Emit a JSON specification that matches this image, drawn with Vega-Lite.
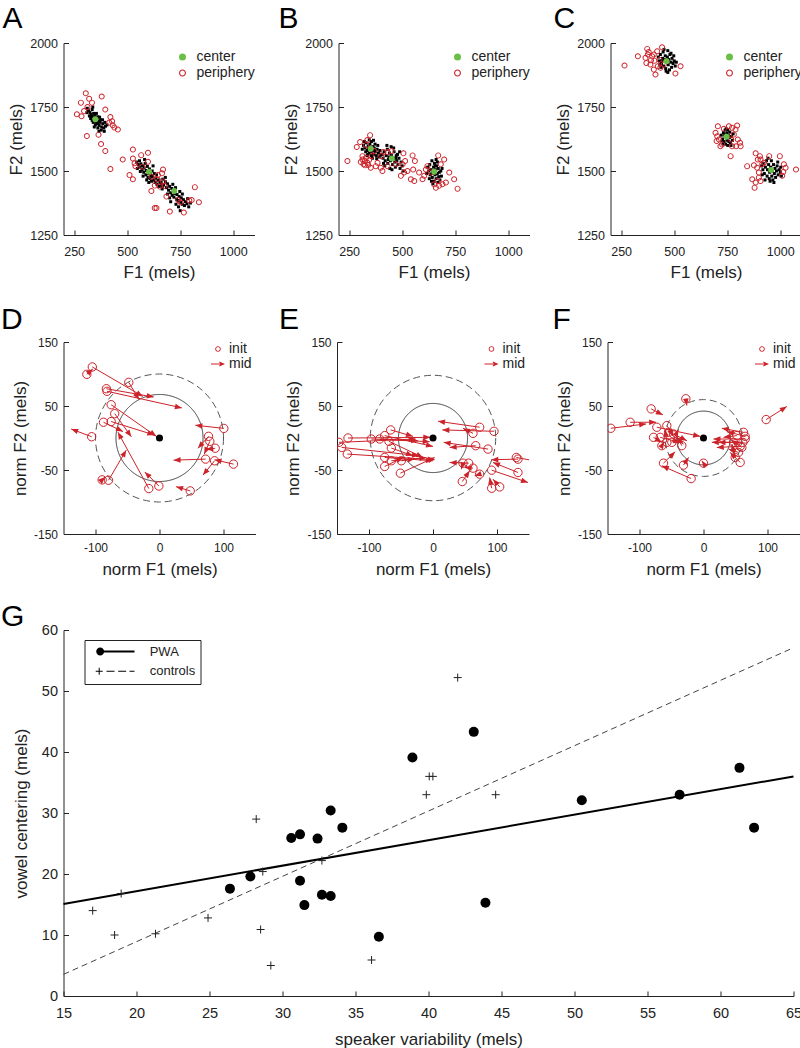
{
"$schema":"https://vega.github.io/schema/vega-lite/v6.json",
"padding":{"left":0.5,"top":4,"right":0,"bottom":0},
"config":{"font":"Liberation Sans","view":{"stroke":null},
"axis":{"grid":false,"domainColor":"#222","tickColor":"#222","labelColor":"#222","titleColor":"#222","titleFontWeight":"normal","titleFontSize":17,"labelFontSize":12.5,"tickSize":-5,"labelFlush":false,"labelOverlap":false,"domainWidth":1,"tickWidth":1},
"axisX":{"labelPadding":13,"titlePadding":8},
"axisY":{"labelPadding":11,"titlePadding":4},
"legend":{"labelFont":"Liberation Sans","labelColor":"#222"},
"title":{"fontSize":30,"fontWeight":"normal","anchor":"start","frame":"group","color":"#000"}},
"datasets":{
"abc":[
{"p":"A","t":"d","f1":318,"f2":1735},{"p":"A","t":"d","f1":325,"f2":1728},{"p":"A","t":"d","f1":330,"f2":1720},{"p":"A","t":"d","f1":335,"f2":1740},{"p":"A","t":"d","f1":340,"f2":1712},{"p":"A","t":"d","f1":342,"f2":1725},{"p":"A","t":"d","f1":345,"f2":1695},{"p":"A","t":"d","f1":348,"f2":1718},{"p":"A","t":"d","f1":352,"f2":1708},{"p":"A","t":"d","f1":355,"f2":1690},{"p":"A","t":"d","f1":358,"f2":1700},{"p":"A","t":"d","f1":360,"f2":1685},{"p":"A","t":"d","f1":362,"f2":1712},{"p":"A","t":"d","f1":365,"f2":1695},{"p":"A","t":"d","f1":368,"f2":1678},{"p":"A","t":"d","f1":372,"f2":1690},{"p":"A","t":"d","f1":375,"f2":1700},{"p":"A","t":"d","f1":380,"f2":1672},{"p":"A","t":"d","f1":385,"f2":1685},{"p":"A","t":"d","f1":390,"f2":1668},{"p":"A","t":"d","f1":395,"f2":1690},{"p":"A","t":"d","f1":398,"f2":1675},{"p":"A","t":"d","f1":328,"f2":1705},{"p":"A","t":"d","f1":335,"f2":1698},{"p":"A","t":"d","f1":338,"f2":1750},{"p":"A","t":"d","f1":345,"f2":1672},{"p":"A","t":"d","f1":355,"f2":1725},{"p":"A","t":"d","f1":362,"f2":1668},{"p":"A","t":"d","f1":370,"f2":1710},{"p":"A","t":"d","f1":378,"f2":1660},{"p":"A","t":"d","f1":322,"f2":1715},{"p":"A","t":"d","f1":312,"f2":1745},{"p":"A","t":"d","f1":405,"f2":1680},{"p":"A","t":"d","f1":350,"f2":1680},{"p":"A","t":"d","f1":340,"f2":1690},{"p":"A","t":"d","f1":332,"f2":1712},{"p":"A","t":"d","f1":367,"f2":1655},{"p":"A","t":"d","f1":384,"f2":1700},{"p":"A","t":"d","f1":392,"f2":1655},{"p":"A","t":"d","f1":310,"f2":1728},
{"p":"A","t":"d","f1":545,"f2":1535},{"p":"A","t":"d","f1":552,"f2":1525},{"p":"A","t":"d","f1":558,"f2":1540},{"p":"A","t":"d","f1":560,"f2":1515},{"p":"A","t":"d","f1":565,"f2":1528},{"p":"A","t":"d","f1":570,"f2":1505},{"p":"A","t":"d","f1":572,"f2":1520},{"p":"A","t":"d","f1":578,"f2":1495},{"p":"A","t":"d","f1":580,"f2":1512},{"p":"A","t":"d","f1":585,"f2":1530},{"p":"A","t":"d","f1":588,"f2":1485},{"p":"A","t":"d","f1":590,"f2":1502},{"p":"A","t":"d","f1":595,"f2":1518},{"p":"A","t":"d","f1":598,"f2":1475},{"p":"A","t":"d","f1":600,"f2":1490},{"p":"A","t":"d","f1":605,"f2":1508},{"p":"A","t":"d","f1":608,"f2":1470},{"p":"A","t":"d","f1":610,"f2":1495},{"p":"A","t":"d","f1":612,"f2":1482},{"p":"A","t":"d","f1":615,"f2":1460},{"p":"A","t":"d","f1":618,"f2":1500},{"p":"A","t":"d","f1":620,"f2":1478},{"p":"A","t":"d","f1":625,"f2":1465},{"p":"A","t":"d","f1":628,"f2":1490},{"p":"A","t":"d","f1":632,"f2":1455},{"p":"A","t":"d","f1":635,"f2":1472},{"p":"A","t":"d","f1":640,"f2":1448},{"p":"A","t":"d","f1":645,"f2":1462},{"p":"A","t":"d","f1":650,"f2":1440},{"p":"A","t":"d","f1":655,"f2":1455},{"p":"A","t":"d","f1":660,"f2":1445},{"p":"A","t":"d","f1":575,"f2":1480},{"p":"A","t":"d","f1":592,"f2":1465},{"p":"A","t":"d","f1":562,"f2":1498},{"p":"A","t":"d","f1":548,"f2":1510},{"p":"A","t":"d","f1":622,"f2":1520},{"p":"A","t":"d","f1":638,"f2":1485},{"p":"A","t":"d","f1":665,"f2":1438},{"p":"A","t":"d","f1":582,"f2":1545},{"p":"A","t":"d","f1":602,"f2":1455},
{"p":"A","t":"d","f1":650,"f2":1465},{"p":"A","t":"d","f1":660,"f2":1455},{"p":"A","t":"d","f1":668,"f2":1468},{"p":"A","t":"d","f1":672,"f2":1445},{"p":"A","t":"d","f1":680,"f2":1458},{"p":"A","t":"d","f1":685,"f2":1435},{"p":"A","t":"d","f1":690,"f2":1450},{"p":"A","t":"d","f1":695,"f2":1425},{"p":"A","t":"d","f1":700,"f2":1440},{"p":"A","t":"d","f1":705,"f2":1415},{"p":"A","t":"d","f1":710,"f2":1432},{"p":"A","t":"d","f1":712,"f2":1405},{"p":"A","t":"d","f1":718,"f2":1420},{"p":"A","t":"d","f1":720,"f2":1398},{"p":"A","t":"d","f1":725,"f2":1412},{"p":"A","t":"d","f1":728,"f2":1435},{"p":"A","t":"d","f1":732,"f2":1390},{"p":"A","t":"d","f1":735,"f2":1408},{"p":"A","t":"d","f1":740,"f2":1385},{"p":"A","t":"d","f1":745,"f2":1400},{"p":"A","t":"d","f1":748,"f2":1420},{"p":"A","t":"d","f1":752,"f2":1378},{"p":"A","t":"d","f1":755,"f2":1395},{"p":"A","t":"d","f1":760,"f2":1370},{"p":"A","t":"d","f1":765,"f2":1388},{"p":"A","t":"d","f1":770,"f2":1365},{"p":"A","t":"d","f1":775,"f2":1380},{"p":"A","t":"d","f1":782,"f2":1372},{"p":"A","t":"d","f1":790,"f2":1360},{"p":"A","t":"d","f1":798,"f2":1375},{"p":"A","t":"d","f1":700,"f2":1395},{"p":"A","t":"d","f1":690,"f2":1410},{"p":"A","t":"d","f1":742,"f2":1360},{"p":"A","t":"d","f1":715,"f2":1448},{"p":"A","t":"d","f1":680,"f2":1475},{"p":"A","t":"d","f1":760,"f2":1410},{"p":"A","t":"d","f1":730,"f2":1370},{"p":"A","t":"d","f1":705,"f2":1380},{"p":"A","t":"d","f1":785,"f2":1392},{"p":"A","t":"d","f1":665,"f2":1430},{"p":"A","t":"d","f1":750,"f2":1345},
{"p":"B","t":"d","f1":318,"f2":1600},{"p":"B","t":"d","f1":325,"f2":1590},{"p":"B","t":"d","f1":330,"f2":1610},{"p":"B","t":"d","f1":335,"f2":1580},{"p":"B","t":"d","f1":340,"f2":1598},{"p":"B","t":"d","f1":345,"f2":1570},{"p":"B","t":"d","f1":348,"f2":1605},{"p":"B","t":"d","f1":352,"f2":1585},{"p":"B","t":"d","f1":355,"f2":1615},{"p":"B","t":"d","f1":358,"f2":1575},{"p":"B","t":"d","f1":362,"f2":1595},{"p":"B","t":"d","f1":365,"f2":1565},{"p":"B","t":"d","f1":368,"f2":1590},{"p":"B","t":"d","f1":372,"f2":1605},{"p":"B","t":"d","f1":375,"f2":1575},{"p":"B","t":"d","f1":378,"f2":1560},{"p":"B","t":"d","f1":382,"f2":1585},{"p":"B","t":"d","f1":388,"f2":1570},{"p":"B","t":"d","f1":392,"f2":1555},{"p":"B","t":"d","f1":395,"f2":1580},{"p":"B","t":"d","f1":338,"f2":1565},{"p":"B","t":"d","f1":328,"f2":1575},{"p":"B","t":"d","f1":322,"f2":1615},{"p":"B","t":"d","f1":345,"f2":1622},{"p":"B","t":"d","f1":360,"f2":1550},{"p":"B","t":"d","f1":385,"f2":1600},{"p":"B","t":"d","f1":398,"f2":1562},{"p":"B","t":"d","f1":342,"f2":1590},{"p":"B","t":"d","f1":370,"f2":1580},{"p":"B","t":"d","f1":355,"f2":1560},{"p":"B","t":"d","f1":335,"f2":1560},{"p":"B","t":"d","f1":312,"f2":1585},{"p":"B","t":"d","f1":365,"f2":1620},{"p":"B","t":"d","f1":380,"f2":1548},
{"p":"B","t":"d","f1":405,"f2":1565},{"p":"B","t":"d","f1":410,"f2":1550},{"p":"B","t":"d","f1":415,"f2":1575},{"p":"B","t":"d","f1":420,"f2":1540},{"p":"B","t":"d","f1":425,"f2":1560},{"p":"B","t":"d","f1":430,"f2":1585},{"p":"B","t":"d","f1":432,"f2":1530},{"p":"B","t":"d","f1":438,"f2":1555},{"p":"B","t":"d","f1":440,"f2":1570},{"p":"B","t":"d","f1":445,"f2":1540},{"p":"B","t":"d","f1":448,"f2":1595},{"p":"B","t":"d","f1":450,"f2":1560},{"p":"B","t":"d","f1":455,"f2":1525},{"p":"B","t":"d","f1":458,"f2":1550},{"p":"B","t":"d","f1":462,"f2":1575},{"p":"B","t":"d","f1":465,"f2":1535},{"p":"B","t":"d","f1":468,"f2":1515},{"p":"B","t":"d","f1":472,"f2":1560},{"p":"B","t":"d","f1":475,"f2":1540},{"p":"B","t":"d","f1":480,"f2":1525},{"p":"B","t":"d","f1":485,"f2":1550},{"p":"B","t":"d","f1":490,"f2":1510},{"p":"B","t":"d","f1":495,"f2":1535},{"p":"B","t":"d","f1":500,"f2":1520},{"p":"B","t":"d","f1":418,"f2":1520},{"p":"B","t":"d","f1":428,"f2":1600},{"p":"B","t":"d","f1":442,"f2":1510},{"p":"B","t":"d","f1":460,"f2":1590},{"p":"B","t":"d","f1":478,"f2":1565},{"p":"B","t":"d","f1":505,"f2":1500},{"p":"B","t":"d","f1":412,"f2":1530},{"p":"B","t":"d","f1":452,"f2":1505},{"p":"B","t":"d","f1":488,"f2":1575},{"p":"B","t":"d","f1":435,"f2":1545},{"p":"B","t":"d","f1":470,"f2":1550},
{"p":"B","t":"d","f1":620,"f2":1515},{"p":"B","t":"d","f1":625,"f2":1500},{"p":"B","t":"d","f1":630,"f2":1525},{"p":"B","t":"d","f1":632,"f2":1485},{"p":"B","t":"d","f1":635,"f2":1505},{"p":"B","t":"d","f1":640,"f2":1540},{"p":"B","t":"d","f1":642,"f2":1475},{"p":"B","t":"d","f1":645,"f2":1495},{"p":"B","t":"d","f1":648,"f2":1515},{"p":"B","t":"d","f1":650,"f2":1460},{"p":"B","t":"d","f1":652,"f2":1530},{"p":"B","t":"d","f1":655,"f2":1485},{"p":"B","t":"d","f1":658,"f2":1505},{"p":"B","t":"d","f1":660,"f2":1470},{"p":"B","t":"d","f1":662,"f2":1520},{"p":"B","t":"d","f1":665,"f2":1490},{"p":"B","t":"d","f1":668,"f2":1455},{"p":"B","t":"d","f1":670,"f2":1510},{"p":"B","t":"d","f1":672,"f2":1478},{"p":"B","t":"d","f1":675,"f2":1495},{"p":"B","t":"d","f1":678,"f2":1465},{"p":"B","t":"d","f1":682,"f2":1500},{"p":"B","t":"d","f1":685,"f2":1480},{"p":"B","t":"d","f1":638,"f2":1460},{"p":"B","t":"d","f1":628,"f2":1470},{"p":"B","t":"d","f1":660,"f2":1545},{"p":"B","t":"d","f1":645,"f2":1450},{"p":"B","t":"d","f1":688,"f2":1510},{"p":"B","t":"d","f1":615,"f2":1490},{"p":"B","t":"d","f1":655,"f2":1520},{"p":"B","t":"d","f1":666,"f2":1535},{"p":"B","t":"d","f1":640,"f2":1490},
{"p":"C","t":"d","f1":425,"f2":1945},{"p":"C","t":"d","f1":430,"f2":1930},{"p":"C","t":"d","f1":435,"f2":1955},{"p":"C","t":"d","f1":440,"f2":1920},{"p":"C","t":"d","f1":445,"f2":1940},{"p":"C","t":"d","f1":448,"f2":1965},{"p":"C","t":"d","f1":450,"f2":1910},{"p":"C","t":"d","f1":455,"f2":1935},{"p":"C","t":"d","f1":458,"f2":1950},{"p":"C","t":"d","f1":460,"f2":1900},{"p":"C","t":"d","f1":465,"f2":1925},{"p":"C","t":"d","f1":468,"f2":1945},{"p":"C","t":"d","f1":470,"f2":1970},{"p":"C","t":"d","f1":472,"f2":1915},{"p":"C","t":"d","f1":475,"f2":1935},{"p":"C","t":"d","f1":478,"f2":1895},{"p":"C","t":"d","f1":480,"f2":1955},{"p":"C","t":"d","f1":484,"f2":1925},{"p":"C","t":"d","f1":488,"f2":1905},{"p":"C","t":"d","f1":490,"f2":1940},{"p":"C","t":"d","f1":495,"f2":1920},{"p":"C","t":"d","f1":500,"f2":1930},{"p":"C","t":"d","f1":505,"f2":1910},{"p":"C","t":"d","f1":438,"f2":1905},{"p":"C","t":"d","f1":452,"f2":1975},{"p":"C","t":"d","f1":462,"f2":1890},{"p":"C","t":"d","f1":485,"f2":1960},{"p":"C","t":"d","f1":498,"f2":1950},{"p":"C","t":"d","f1":442,"f2":1932},{"p":"C","t":"d","f1":470,"f2":1885},{"p":"C","t":"d","f1":510,"f2":1925},{"p":"C","t":"d","f1":432,"f2":1915},
{"p":"C","t":"d","f1":722,"f2":1640},{"p":"C","t":"d","f1":728,"f2":1625},{"p":"C","t":"d","f1":732,"f2":1650},{"p":"C","t":"d","f1":735,"f2":1615},{"p":"C","t":"d","f1":738,"f2":1640},{"p":"C","t":"d","f1":740,"f2":1660},{"p":"C","t":"d","f1":742,"f2":1605},{"p":"C","t":"d","f1":745,"f2":1630},{"p":"C","t":"d","f1":748,"f2":1648},{"p":"C","t":"d","f1":750,"f2":1620},{"p":"C","t":"d","f1":752,"f2":1600},{"p":"C","t":"d","f1":755,"f2":1640},{"p":"C","t":"d","f1":758,"f2":1615},{"p":"C","t":"d","f1":760,"f2":1630},{"p":"C","t":"d","f1":762,"f2":1652},{"p":"C","t":"d","f1":765,"f2":1610},{"p":"C","t":"d","f1":770,"f2":1635},{"p":"C","t":"d","f1":775,"f2":1620},{"p":"C","t":"d","f1":730,"f2":1605},{"p":"C","t":"d","f1":745,"f2":1665},{"p":"C","t":"d","f1":768,"f2":1600},{"p":"C","t":"d","f1":778,"f2":1645},{"p":"C","t":"d","f1":725,"f2":1618},{"p":"C","t":"d","f1":752,"f2":1660},
{"p":"C","t":"d","f1":912,"f2":1520},{"p":"C","t":"d","f1":918,"f2":1505},{"p":"C","t":"d","f1":922,"f2":1530},{"p":"C","t":"d","f1":925,"f2":1490},{"p":"C","t":"d","f1":930,"f2":1515},{"p":"C","t":"d","f1":935,"f2":1540},{"p":"C","t":"d","f1":938,"f2":1480},{"p":"C","t":"d","f1":940,"f2":1505},{"p":"C","t":"d","f1":945,"f2":1525},{"p":"C","t":"d","f1":948,"f2":1470},{"p":"C","t":"d","f1":950,"f2":1495},{"p":"C","t":"d","f1":955,"f2":1515},{"p":"C","t":"d","f1":958,"f2":1540},{"p":"C","t":"d","f1":960,"f2":1480},{"p":"C","t":"d","f1":962,"f2":1500},{"p":"C","t":"d","f1":965,"f2":1465},{"p":"C","t":"d","f1":968,"f2":1525},{"p":"C","t":"d","f1":972,"f2":1490},{"p":"C","t":"d","f1":975,"f2":1510},{"p":"C","t":"d","f1":978,"f2":1475},{"p":"C","t":"d","f1":982,"f2":1500},{"p":"C","t":"d","f1":985,"f2":1520},{"p":"C","t":"d","f1":990,"f2":1485},{"p":"C","t":"d","f1":995,"f2":1505},{"p":"C","t":"d","f1":1000,"f2":1495},{"p":"C","t":"d","f1":1005,"f2":1480},{"p":"C","t":"d","f1":928,"f2":1465},{"p":"C","t":"d","f1":942,"f2":1550},{"p":"C","t":"d","f1":970,"f2":1455},{"p":"C","t":"d","f1":952,"f2":1460},{"p":"C","t":"d","f1":988,"f2":1535},{"p":"C","t":"d","f1":915,"f2":1485},{"p":"C","t":"d","f1":1002,"f2":1515},
{"p":"A","t":"periphery","f1":305,"f2":1804},{"p":"A","t":"periphery","f1":282,"f2":1767},{"p":"A","t":"periphery","f1":321,"f2":1782},{"p":"A","t":"periphery","f1":334,"f2":1767},{"p":"A","t":"periphery","f1":313,"f2":1750},{"p":"A","t":"periphery","f1":263,"f2":1722},{"p":"A","t":"periphery","f1":285,"f2":1714},{"p":"A","t":"periphery","f1":297,"f2":1734},{"p":"A","t":"periphery","f1":380,"f2":1791},{"p":"A","t":"periphery","f1":397,"f2":1740},{"p":"A","t":"periphery","f1":421,"f2":1711},{"p":"A","t":"periphery","f1":429,"f2":1694},{"p":"A","t":"periphery","f1":432,"f2":1679},{"p":"A","t":"periphery","f1":456,"f2":1662},{"p":"A","t":"periphery","f1":440,"f2":1670},{"p":"A","t":"periphery","f1":365,"f2":1642},{"p":"A","t":"periphery","f1":310,"f2":1637},{"p":"A","t":"periphery","f1":377,"f2":1605},{"p":"A","t":"periphery","f1":397,"f2":1578},{"p":"A","t":"periphery","f1":421,"f2":1508},{"p":"A","t":"periphery","f1":416,"f2":1689},
{"p":"A","t":"periphery","f1":527,"f2":1584},{"p":"A","t":"periphery","f1":598,"f2":1571},{"p":"A","t":"periphery","f1":566,"f2":1562},{"p":"A","t":"periphery","f1":527,"f2":1549},{"p":"A","t":"periphery","f1":535,"f2":1530},{"p":"A","t":"periphery","f1":539,"f2":1519},{"p":"A","t":"periphery","f1":479,"f2":1545},{"p":"A","t":"periphery","f1":511,"f2":1484},{"p":"A","t":"periphery","f1":527,"f2":1468},{"p":"A","t":"periphery","f1":598,"f2":1536},{"p":"A","t":"periphery","f1":669,"f2":1506},{"p":"A","t":"periphery","f1":664,"f2":1491},{"p":"A","t":"periphery","f1":614,"f2":1478},{"p":"A","t":"periphery","f1":642,"f2":1468},{"p":"A","t":"periphery","f1":669,"f2":1459},{"p":"A","t":"periphery","f1":653,"f2":1439},{"p":"A","t":"periphery","f1":614,"f2":1422},{"p":"A","t":"periphery","f1":630,"f2":1443},{"p":"A","t":"periphery","f1":677,"f2":1442},{"p":"A","t":"periphery","f1":630,"f2":1355},{"p":"A","t":"periphery","f1":638,"f2":1355},{"p":"A","t":"periphery","f1":701,"f2":1342},{"p":"A","t":"periphery","f1":571,"f2":1517},{"p":"A","t":"periphery","f1":645,"f2":1484},
{"p":"A","t":"periphery","f1":740,"f2":1387},{"p":"A","t":"periphery","f1":767,"f2":1338},{"p":"A","t":"periphery","f1":804,"f2":1387},{"p":"A","t":"periphery","f1":793,"f2":1385},{"p":"A","t":"periphery","f1":819,"f2":1437},{"p":"A","t":"periphery","f1":838,"f2":1378},{"p":"A","t":"periphery","f1":751,"f2":1378},{"p":"A","t":"periphery","f1":685,"f2":1400},
{"p":"B","t":"periphery","f1":242,"f2":1539},{"p":"B","t":"periphery","f1":286,"f2":1594},{"p":"B","t":"periphery","f1":302,"f2":1613},{"p":"B","t":"periphery","f1":336,"f2":1621},{"p":"B","t":"periphery","f1":349,"f2":1640},{"p":"B","t":"periphery","f1":330,"f2":1601},{"p":"B","t":"periphery","f1":313,"f2":1545},{"p":"B","t":"periphery","f1":324,"f2":1539},{"p":"B","t":"periphery","f1":336,"f2":1532},{"p":"B","t":"periphery","f1":318,"f2":1526},{"p":"B","t":"periphery","f1":330,"f2":1552},{"p":"B","t":"periphery","f1":344,"f2":1543},{"p":"B","t":"periphery","f1":305,"f2":1535},{"p":"B","t":"periphery","f1":325,"f2":1522},{"p":"B","t":"periphery","f1":340,"f2":1523},{"p":"B","t":"periphery","f1":313,"f2":1558},{"p":"B","t":"periphery","f1":355,"f2":1558},{"p":"B","t":"periphery","f1":368,"f2":1578},{"p":"B","t":"periphery","f1":384,"f2":1532},{"p":"B","t":"periphery","f1":399,"f2":1513},{"p":"B","t":"periphery","f1":407,"f2":1500},{"p":"B","t":"periphery","f1":402,"f2":1558},{"p":"B","t":"periphery","f1":412,"f2":1574},{"p":"B","t":"periphery","f1":352,"f2":1513},{"p":"B","t":"periphery","f1":376,"f2":1519},{"p":"B","t":"periphery","f1":431,"f2":1519},{"p":"B","t":"periphery","f1":470,"f2":1526},{"p":"B","t":"periphery","f1":506,"f2":1569},{"p":"B","t":"periphery","f1":514,"f2":1539},{"p":"B","t":"periphery","f1":549,"f2":1561},{"p":"B","t":"periphery","f1":560,"f2":1539},{"p":"B","t":"periphery","f1":552,"f2":1506},{"p":"B","t":"periphery","f1":525,"f2":1500},{"p":"B","t":"periphery","f1":509,"f2":1494},{"p":"B","t":"periphery","f1":494,"f2":1481},{"p":"B","t":"periphery","f1":502,"f2":1526},{"p":"B","t":"periphery","f1":604,"f2":1481},{"p":"B","t":"periphery","f1":619,"f2":1519},{"p":"B","t":"periphery","f1":635,"f2":1494},{"p":"B","t":"periphery","f1":596,"f2":1468},{"p":"B","t":"periphery","f1":557,"f2":1461},{"p":"B","t":"periphery","f1":541,"f2":1468},{"p":"B","t":"periphery","f1":580,"f2":1494},{"p":"B","t":"periphery","f1":612,"f2":1506},{"p":"B","t":"periphery","f1":682,"f2":1526},{"p":"B","t":"periphery","f1":698,"f2":1545},{"p":"B","t":"periphery","f1":670,"f2":1561},{"p":"B","t":"periphery","f1":667,"f2":1461},{"p":"B","t":"periphery","f1":674,"f2":1442},{"p":"B","t":"periphery","f1":690,"f2":1448},{"p":"B","t":"periphery","f1":706,"f2":1455},{"p":"B","t":"periphery","f1":722,"f2":1494},{"p":"B","t":"periphery","f1":745,"f2":1468},{"p":"B","t":"periphery","f1":761,"f2":1431},{"p":"B","t":"periphery","f1":659,"f2":1435},{"p":"B","t":"periphery","f1":651,"f2":1448},{"p":"B","t":"periphery","f1":431,"f2":1574},{"p":"B","t":"periphery","f1":450,"f2":1578},
{"p":"C","t":"periphery","f1":266,"f2":1912},{"p":"C","t":"periphery","f1":329,"f2":1948},{"p":"C","t":"periphery","f1":365,"f2":1942},{"p":"C","t":"periphery","f1":373,"f2":1977},{"p":"C","t":"periphery","f1":380,"f2":1965},{"p":"C","t":"periphery","f1":369,"f2":1922},{"p":"C","t":"periphery","f1":388,"f2":1916},{"p":"C","t":"periphery","f1":391,"f2":1933},{"p":"C","t":"periphery","f1":404,"f2":1955},{"p":"C","t":"periphery","f1":420,"f2":1968},{"p":"C","t":"periphery","f1":423,"f2":1909},{"p":"C","t":"periphery","f1":412,"f2":1877},{"p":"C","t":"periphery","f1":443,"f2":1983},{"p":"C","t":"periphery","f1":451,"f2":1916},{"p":"C","t":"periphery","f1":404,"f2":1896},{"p":"C","t":"periphery","f1":435,"f2":1903},{"p":"C","t":"periphery","f1":506,"f2":1881},{"p":"C","t":"periphery","f1":530,"f2":1909},{"p":"C","t":"periphery","f1":396,"f2":1948},{"p":"C","t":"periphery","f1":376,"f2":1955},{"p":"C","t":"periphery","f1":407,"f2":1931},{"p":"C","t":"periphery","f1":431,"f2":1935},
{"p":"C","t":"periphery","f1":706,"f2":1675},{"p":"C","t":"periphery","f1":734,"f2":1665},{"p":"C","t":"periphery","f1":758,"f2":1675},{"p":"C","t":"periphery","f1":773,"f2":1669},{"p":"C","t":"periphery","f1":797,"f2":1678},{"p":"C","t":"periphery","f1":789,"f2":1662},{"p":"C","t":"periphery","f1":769,"f2":1623},{"p":"C","t":"periphery","f1":773,"f2":1597},{"p":"C","t":"periphery","f1":711,"f2":1623},{"p":"C","t":"periphery","f1":695,"f2":1649},{"p":"C","t":"periphery","f1":781,"f2":1643},{"p":"C","t":"periphery","f1":800,"f2":1623},{"p":"C","t":"periphery","f1":810,"f2":1610},{"p":"C","t":"periphery","f1":813,"f2":1597},{"p":"C","t":"periphery","f1":792,"f2":1597},{"p":"C","t":"periphery","f1":718,"f2":1597},{"p":"C","t":"periphery","f1":726,"f2":1604},{"p":"C","t":"periphery","f1":766,"f2":1558},{"p":"C","t":"periphery","f1":703,"f2":1636},{"p":"C","t":"periphery","f1":700,"f2":1617},
{"p":"C","t":"periphery","f1":884,"f2":1569},{"p":"C","t":"periphery","f1":904,"f2":1558},{"p":"C","t":"periphery","f1":907,"f2":1545},{"p":"C","t":"periphery","f1":915,"f2":1526},{"p":"C","t":"periphery","f1":891,"f2":1513},{"p":"C","t":"periphery","f1":868,"f2":1468},{"p":"C","t":"periphery","f1":884,"f2":1455},{"p":"C","t":"periphery","f1":899,"f2":1474},{"p":"C","t":"periphery","f1":907,"f2":1461},{"p":"C","t":"periphery","f1":876,"f2":1522},{"p":"C","t":"periphery","f1":844,"f2":1519},{"p":"C","t":"periphery","f1":948,"f2":1558},{"p":"C","t":"periphery","f1":998,"f2":1558},{"p":"C","t":"periphery","f1":1017,"f2":1526},{"p":"C","t":"periphery","f1":1025,"f2":1513},{"p":"C","t":"periphery","f1":1009,"f2":1481},{"p":"C","t":"periphery","f1":1074,"f2":1506},{"p":"C","t":"periphery","f1":1014,"f2":1496},{"p":"C","t":"periphery","f1":923,"f2":1532},{"p":"C","t":"periphery","f1":899,"f2":1494},{"p":"C","t":"periphery","f1":894,"f2":1545},{"p":"C","t":"periphery","f1":879,"f2":1435},
{"p":"A","t":"center","f1":350,"f2":1702},{"p":"A","t":"center","f1":603,"f2":1497},{"p":"A","t":"center","f1":722,"f2":1422},
{"p":"B","t":"center","f1":352,"f2":1587},{"p":"B","t":"center","f1":451,"f2":1549},{"p":"B","t":"center","f1":651,"f2":1497},
{"p":"C","t":"center","f1":464,"f2":1929},{"p":"C","t":"center","f1":747,"f2":1634},{"p":"C","t":"center","f1":957,"f2":1504}
],
"rings":[
{"p":"D","kind":"dashed","cx":0,"cy":0,"r":100},{"p":"D","kind":"solid","cx":0,"cy":0,"r":68},
{"p":"E","kind":"dashed","cx":0,"cy":0,"r":98},{"p":"E","kind":"solid","cx":0,"cy":0,"r":54},
{"p":"F","kind":"dashed","cx":0,"cy":0,"r":60},{"p":"F","kind":"solid","cx":0,"cy":0,"r":42}
],
"legkeys":[{"k":"init"},{"k":"mid"}],
"arrows":[
{"p":"D","ix":-105,"iy":111,"mx":-26,"my":65},{"p":"D","ix":-113.5,"iy":99.5,"mx":-104,"my":108},{"p":"D","ix":-48,"iy":87,"mx":-32,"my":60},{"p":"D","ix":-83,"iy":77,"mx":-9,"my":64},{"p":"D","ix":-82,"iy":73,"mx":35,"my":47},{"p":"D","ix":-75.5,"iy":52,"mx":-5,"my":2.6},{"p":"D","ix":-70,"iy":38,"mx":-44,"my":2},{"p":"D","ix":-87.5,"iy":24.6,"mx":-57,"my":10},{"p":"D","ix":-75.5,"iy":25.7,"mx":-8,"my":4.7},{"p":"D","ix":-106,"iy":2,"mx":-138,"my":14},{"p":"D","ix":100.5,"iy":15,"mx":56,"my":20},{"p":"D","ix":76.6,"iy":2.6,"mx":60,"my":-16},{"p":"D","ix":78.6,"iy":-5.2,"mx":70,"my":-25},{"p":"D","ix":87,"iy":-16,"mx":73,"my":-18},{"p":"D","ix":72,"iy":-33,"mx":22,"my":-34.6},{"p":"D","ix":115.6,"iy":-40.8,"mx":86,"my":-34},{"p":"D","ix":86,"iy":-35.6,"mx":68,"my":-58},{"p":"D","ix":-1,"iy":-75,"mx":-23,"my":-53},{"p":"D","ix":-16.7,"iy":-79,"mx":-65,"my":9},{"p":"D","ix":-79.7,"iy":-66,"mx":-52,"my":-19},{"p":"D","ix":-89.6,"iy":-65.4,"mx":-85,"my":-61},{"p":"D","ix":48,"iy":-82.7,"mx":26,"my":-76},
{"p":"E","ix":-146.9,"iy":-6.8,"mx":-27.1,"my":-1.6},{"p":"E","ix":-132.8,"iy":0,"mx":-4.2,"my":1},{"p":"E","ix":-142.7,"iy":-14.7,"mx":-21.9,"my":-27.7},{"p":"E","ix":-133.9,"iy":-25.1,"mx":2.6,"my":-34},{"p":"E","ix":-96.4,"iy":-1.6,"mx":-5.2,"my":-5.8},{"p":"E","ix":-83.3,"iy":-1.6,"mx":-23.4,"my":-4.2},{"p":"E","ix":-75.5,"iy":3.7,"mx":0,"my":-13.1},{"p":"E","ix":-66.1,"iy":12.6,"mx":-31.3,"my":2.6},{"p":"E","ix":-68.8,"iy":-5.2,"mx":-15.6,"my":-30.4},{"p":"E","ix":-65.1,"iy":-15.7,"mx":-31.3,"my":-27.7},{"p":"E","ix":-75.5,"iy":-30.4,"mx":0,"my":-35.6},{"p":"E","ix":-65.1,"iy":-35.6,"mx":-28.6,"my":-33},{"p":"E","ix":-51,"iy":-55,"mx":2.6,"my":-30.4},{"p":"E","ix":-49.5,"iy":-35.6,"mx":-10.4,"my":-30.4},{"p":"E","ix":-75.5,"iy":-44.5,"mx":-46.9,"my":-30.4},{"p":"E","ix":72.9,"iy":16.8,"mx":7.8,"my":26.2},{"p":"E","ix":95.3,"iy":10.5,"mx":14.6,"my":12.6},{"p":"E","ix":62.5,"iy":7.3,"mx":46.9,"my":15.2},{"p":"E","ix":85.9,"iy":-17.3,"mx":16.7,"my":-6.8},{"p":"E","ix":66.7,"iy":-12,"mx":26,"my":-14.7},{"p":"E","ix":55.7,"iy":-39.3,"mx":26,"my":-38.2},{"p":"E","ix":46.9,"iy":-39.3,"mx":44.3,"my":-48.7},{"p":"E","ix":62.5,"iy":-47.1,"mx":49.5,"my":-46.1},{"p":"E","ix":45.8,"iy":-68.1,"mx":57.3,"my":-51.3},{"p":"E","ix":72.9,"iy":-56.5,"mx":65.1,"my":-59.2},{"p":"E","ix":91.7,"iy":-50.3,"mx":148.4,"my":-69.6},{"p":"E","ix":91.7,"iy":-78.5,"mx":88.5,"my":-61.8},{"p":"E","ix":104.2,"iy":-76.4,"mx":93.8,"my":-64.4},{"p":"E","ix":132.8,"iy":-33,"mx":91.1,"my":-34},{"p":"E","ix":132.8,"iy":-53.9,"mx":93.8,"my":-38.2},{"p":"E","ix":130.2,"iy":-30.4,"mx":171.9,"my":-38.2},
{"p":"F","ix":-144.8,"iy":15.2,"mx":-89.6,"my":22},{"p":"F","ix":-114.6,"iy":24.6,"mx":-74,"my":24.6},{"p":"F","ix":-81.8,"iy":45.5,"mx":-63.5,"my":36.1},{"p":"F","ix":-27.6,"iy":61.3,"mx":-26,"my":50.8},{"p":"F","ix":97.9,"iy":28.8,"mx":130.2,"my":49.2},{"p":"F","ix":-78.1,"iy":1,"mx":-65.1,"my":-6.8},{"p":"F","ix":-65.1,"iy":-12,"mx":-61.5,"my":-5.8},{"p":"F","ix":-62.5,"iy":-39.3,"mx":-44.3,"my":-21.5},{"p":"F","ix":-19.3,"iy":-63.4,"mx":-65.1,"my":-43.5},{"p":"F","ix":-31.3,"iy":-42.4,"mx":-23.4,"my":-30.4},{"p":"F","ix":0,"iy":-39.3,"mx":-2.6,"my":-35.6},{"p":"F","ix":-57.3,"iy":19.4,"mx":-46.9,"my":3.7},{"p":"F","ix":-72.9,"iy":16.8,"mx":-5.2,"my":2.6},{"p":"F","ix":62.5,"iy":8.9,"mx":28.6,"my":15.2},{"p":"F","ix":65.1,"iy":-1.6,"mx":15.6,"my":-1.6},{"p":"F","ix":61.5,"iy":-6.8,"mx":23.4,"my":-6.8},{"p":"F","ix":57.3,"iy":-13.1,"mx":20.8,"my":-14.7},{"p":"F","ix":54.7,"iy":-22.5,"mx":39.1,"my":-17.3},{"p":"F","ix":57.3,"iy":-38.2,"mx":41.7,"my":-22.5},{"p":"F","ix":49.5,"iy":-30.4,"mx":44.3,"my":-9.4},{"p":"F","ix":65.1,"iy":2.6,"mx":36.5,"my":9.9},{"p":"F","ix":46.9,"iy":-6.8,"mx":13,"my":-6.8},{"p":"F","ix":-67.7,"iy":1,"mx":-36.5,"my":-6.8},{"p":"F","ix":-49.5,"iy":-6.8,"mx":-39.1,"my":13.1},{"p":"F","ix":-54.7,"iy":8.9,"mx":-31.3,"my":-9.4},{"p":"F","ix":-33.9,"iy":-12,"mx":-41.7,"my":2.6},{"p":"F","ix":-46.9,"iy":6.3,"mx":-26,"my":-4.2},{"p":"F","ix":-57.3,"iy":-6.8,"mx":-59.9,"my":13.1},{"p":"F","ix":59.9,"iy":-14.7,"mx":42.7,"my":-2.6},{"p":"F","ix":52.1,"iy":3.7,"mx":31.3,"my":1}
],
"gpts":[
{"group":"PWA","x":26.4,"y":17.6},{"group":"PWA","x":27.8,"y":19.6},{"group":"PWA","x":30.6,"y":25.9},{"group":"PWA","x":31.2,"y":26.5},{"group":"PWA","x":32.4,"y":25.8},{"group":"PWA","x":33.3,"y":30.4},{"group":"PWA","x":34.1,"y":27.6},{"group":"PWA","x":31.2,"y":18.9},{"group":"PWA","x":31.5,"y":14.9},{"group":"PWA","x":32.7,"y":16.6},{"group":"PWA","x":33.3,"y":16.4},{"group":"PWA","x":36.6,"y":9.7},{"group":"PWA","x":38.9,"y":39.1},{"group":"PWA","x":43.1,"y":43.3},{"group":"PWA","x":43.9,"y":15.3},{"group":"PWA","x":50.5,"y":32.1},{"group":"PWA","x":57.2,"y":33.0},{"group":"PWA","x":61.3,"y":37.4},{"group":"PWA","x":62.3,"y":27.6},
{"group":"controls","x":17.0,"y":14.0},{"group":"controls","x":18.95,"y":16.8},{"group":"controls","x":18.5,"y":10.0},{"group":"controls","x":21.3,"y":10.2},{"group":"controls","x":24.9,"y":12.8},{"group":"controls","x":28.2,"y":29.0},{"group":"controls","x":28.65,"y":20.4},{"group":"controls","x":28.5,"y":10.9},{"group":"controls","x":29.2,"y":5.0},{"group":"controls","x":32.7,"y":22.2},{"group":"controls","x":36.1,"y":5.9},{"group":"controls","x":42.0,"y":52.2},{"group":"controls","x":40.05,"y":36.0},{"group":"controls","x":40.3,"y":36.0},{"group":"controls","x":39.85,"y":33.0},{"group":"controls","x":44.6,"y":33.0}
],
"glines":[
{"group":"PWA","x":15,"y":15.1},{"group":"PWA","x":65,"y":36.0},
{"group":"controls","x":15,"y":3.55},{"group":"controls","x":65,"y":57.1}
]
},
"vconcat":[
{"hconcat":[
{"width":191,"height":192,"title":{"text":"A","dx":-61,"offset":3},"layer":[
{"data":{"name":"abc"},"transform":[{"filter":"datum.p==='A' && datum.t==='d'"}],"mark":{"type":"point","shape":"square","filled":true,"size":9,"color":"#000","opacity":1,"strokeWidth":0},"encoding":{"x":{"field":"f1","type":"quantitative","title":"F1 (mels)","scale":{"domain":[200,1100],"nice":false,"zero":false},"axis":{"values":[250,500,750,1000],"labelExpr":"datum.value","labelPadding":15,"titlePadding":7}},"y":{"field":"f2","type":"quantitative","title":"F2 (mels)","scale":{"domain":[1250,2000],"nice":false,"zero":false},"axis":{"values":[1250,1500,1750,2000],"labelExpr":"datum.value"}}}},
{"data":{"name":"abc"},"transform":[{"filter":"datum.p==='A' && datum.t!=='d'"}],"mark":{"type":"point","filled":true,"size":36,"strokeWidth":0,"opacity":1},"encoding":{"x":{"field":"f1","type":"quantitative","title":"F1 (mels)","scale":{"domain":[200,1100],"nice":false,"zero":false}},"y":{"field":"f2","type":"quantitative","title":"F2 (mels)","scale":{"domain":[1250,2000],"nice":false,"zero":false}},"color":{"field":"t","type":"nominal","scale":{"domain":["center","periphery"],"range":["#6cbf45","#cc2229"]},"legend":{"orient":"none","legendX":112,"legendY":7,"title":null,"padding":0,"symbolSize":49,"symbolStrokeWidth":0,"symbolOpacity":1,"labelFontSize":14,"labelOffset":7,"rowPadding":2}},"shape":{"field":"t","type":"nominal","scale":{"domain":["center","periphery"],"range":["circle","M-1,0A1,1 0 1 1 1,0A1,1 0 1 1 -1,0Z M-0.68,0A0.68,0.68 0 1 0 0.68,0A0.68,0.68 0 1 0 -0.68,0Z"]},"legend":{"orient":"none","legendX":112,"legendY":7,"title":null,"padding":0,"symbolSize":49,"symbolStrokeWidth":0,"symbolOpacity":1,"labelFontSize":14,"labelOffset":7,"rowPadding":2}}}}
]},
{"width":191,"height":192,"title":{"text":"B","dx":-60,"offset":3},"layer":[
{"data":{"name":"abc"},"transform":[{"filter":"datum.p==='B' && datum.t==='d'"}],"mark":{"type":"point","shape":"square","filled":true,"size":9,"color":"#000","opacity":1,"strokeWidth":0},"encoding":{"x":{"field":"f1","type":"quantitative","title":"F1 (mels)","scale":{"domain":[200,1100],"nice":false,"zero":false},"axis":{"values":[250,500,750,1000],"labelExpr":"datum.value","labelPadding":15,"titlePadding":7}},"y":{"field":"f2","type":"quantitative","title":"F2 (mels)","scale":{"domain":[1250,2000],"nice":false,"zero":false},"axis":{"values":[1250,1500,1750,2000],"labelExpr":"datum.value"}}}},
{"data":{"name":"abc"},"transform":[{"filter":"datum.p==='B' && datum.t!=='d'"}],"mark":{"type":"point","filled":true,"size":36,"strokeWidth":0,"opacity":1},"encoding":{"x":{"field":"f1","type":"quantitative","title":"F1 (mels)","scale":{"domain":[200,1100],"nice":false,"zero":false}},"y":{"field":"f2","type":"quantitative","title":"F2 (mels)","scale":{"domain":[1250,2000],"nice":false,"zero":false}},"color":{"field":"t","type":"nominal","scale":{"domain":["center","periphery"],"range":["#6cbf45","#cc2229"]},"legend":{"orient":"none","legendX":112,"legendY":7,"title":null,"padding":0,"symbolSize":49,"symbolStrokeWidth":0,"symbolOpacity":1,"labelFontSize":14,"labelOffset":7,"rowPadding":2}},"shape":{"field":"t","type":"nominal","scale":{"domain":["center","periphery"],"range":["circle","M-1,0A1,1 0 1 1 1,0A1,1 0 1 1 -1,0Z M-0.68,0A0.68,0.68 0 1 0 0.68,0A0.68,0.68 0 1 0 -0.68,0Z"]},"legend":{"orient":"none","legendX":112,"legendY":7,"title":null,"padding":0,"symbolSize":49,"symbolStrokeWidth":0,"symbolOpacity":1,"labelFontSize":14,"labelOffset":7,"rowPadding":2}}}}
]},
{"width":191,"height":192,"title":{"text":"C","dx":-57,"offset":3},"layer":[
{"data":{"name":"abc"},"transform":[{"filter":"datum.p==='C' && datum.t==='d'"}],"mark":{"type":"point","shape":"square","filled":true,"size":9,"color":"#000","opacity":1,"strokeWidth":0},"encoding":{"x":{"field":"f1","type":"quantitative","title":"F1 (mels)","scale":{"domain":[200,1100],"nice":false,"zero":false},"axis":{"values":[250,500,750,1000],"labelExpr":"datum.value","labelPadding":15,"titlePadding":7}},"y":{"field":"f2","type":"quantitative","title":"F2 (mels)","scale":{"domain":[1250,2000],"nice":false,"zero":false},"axis":{"values":[1250,1500,1750,2000],"labelExpr":"datum.value"}}}},
{"data":{"name":"abc"},"transform":[{"filter":"datum.p==='C' && datum.t!=='d'"}],"mark":{"type":"point","filled":true,"size":36,"strokeWidth":0,"opacity":1},"encoding":{"x":{"field":"f1","type":"quantitative","title":"F1 (mels)","scale":{"domain":[200,1100],"nice":false,"zero":false}},"y":{"field":"f2","type":"quantitative","title":"F2 (mels)","scale":{"domain":[1250,2000],"nice":false,"zero":false}},"color":{"field":"t","type":"nominal","scale":{"domain":["center","periphery"],"range":["#6cbf45","#cc2229"]},"legend":{"orient":"none","legendX":112,"legendY":7,"title":null,"padding":0,"symbolSize":49,"symbolStrokeWidth":0,"symbolOpacity":1,"labelFontSize":14,"labelOffset":7,"rowPadding":2}},"shape":{"field":"t","type":"nominal","scale":{"domain":["center","periphery"],"range":["circle","M-1,0A1,1 0 1 1 1,0A1,1 0 1 1 -1,0Z M-0.68,0A0.68,0.68 0 1 0 0.68,0A0.68,0.68 0 1 0 -0.68,0Z"]},"legend":{"orient":"none","legendX":112,"legendY":7,"title":null,"padding":0,"symbolSize":49,"symbolStrokeWidth":0,"symbolOpacity":1,"labelFontSize":14,"labelOffset":7,"rowPadding":2}}}}
]}
],"spacing":23,"resolve":{"scale":{"color":"independent","shape":"independent","size":"independent","strokeDash":"independent"},"legend":{"color":"independent","shape":"independent"}}},
{"vconcat":[
{"hconcat":[
{"width":192,"height":192,"title":{"text":"D","dx":-62.5,"offset":1},"layer":[
{"data":{"name":"rings"},"transform":[{"filter":"datum.p==='D'"}],"mark":{"type":"point","shape":"circle","filled":false,"strokeWidth":1,"opacity":1},"encoding":{"x":{"field":"cx","type":"quantitative","title":"norm F1 (mels)","scale":{"domain":[-150,150],"nice":false,"zero":false},"axis":{"values":[-100,0,100],"labelFontSize":12,"labelExpr":"datum.value"}},"y":{"field":"cy","type":"quantitative","title":"norm F2 (mels)","scale":{"domain":[-150,150],"nice":false,"zero":false},"axis":{"values":[-150,-100,-50,0,50,100,150],"labelFontSize":12,"labelExpr":"datum.value"}},"size":{"field":"r","type":"quantitative","scale":{"type":"pow","exponent":2,"domain":[0,150],"range":[0,36864]},"legend":null},"strokeDash":{"field":"kind","type":"nominal","scale":{"domain":["solid","dashed"],"range":[[1,0],[7,4]]},"legend":null},"color":{"field":"kind","type":"nominal","scale":{"domain":["solid","dashed"],"range":["#333","#555"]},"legend":null}}},
{"data":{"name":"arrows"},"transform":[{"filter":"datum.p==='D'"}],"mark":{"type":"rule","color":"#cc2229","strokeWidth":1,"clip":true},"encoding":{"x":{"field":"ix","type":"quantitative","title":"norm F1 (mels)","scale":{"domain":[-150,150],"nice":false,"zero":false}},"y":{"field":"iy","type":"quantitative","title":"norm F2 (mels)","scale":{"domain":[-150,150],"nice":false,"zero":false}},"x2":{"field":"mx"},"y2":{"field":"my"}}},
{"data":{"name":"arrows"},"transform":[{"filter":"datum.p==='D'"},{"calculate":"-atan2(datum.my-datum.iy, datum.mx-datum.ix)*180/PI","as":"ang"}],"mark":{"type":"point","shape":"M0,0L-1,-0.4L-1,0.4Z","filled":true,"size":196,"color":"#cc2229","opacity":1,"strokeWidth":0,"clip":true},"encoding":{"x":{"field":"mx","type":"quantitative","title":"norm F1 (mels)","scale":{"domain":[-150,150],"nice":false,"zero":false}},"y":{"field":"my","type":"quantitative","title":"norm F2 (mels)","scale":{"domain":[-150,150],"nice":false,"zero":false}},"angle":{"field":"ang","type":"quantitative","scale":null}}},
{"data":{"name":"arrows"},"transform":[{"filter":"datum.p==='D'"}],"mark":{"type":"point","shape":"circle","filled":false,"size":70,"strokeWidth":1,"color":"#cc2229","opacity":1,"clip":true},"encoding":{"x":{"field":"ix","type":"quantitative","title":"norm F1 (mels)","scale":{"domain":[-150,150],"nice":false,"zero":false}},"y":{"field":"iy","type":"quantitative","title":"norm F2 (mels)","scale":{"domain":[-150,150],"nice":false,"zero":false}}}},
{"data":{"name":"rings"},"transform":[{"filter":"datum.p==='D' && datum.kind==='solid'"}],"mark":{"type":"point","shape":"circle","filled":true,"size":50,"color":"#000","opacity":1},"encoding":{"x":{"field":"cx","type":"quantitative","title":"norm F1 (mels)","scale":{"domain":[-150,150],"nice":false,"zero":false}},"y":{"field":"cy","type":"quantitative","title":"norm F2 (mels)","scale":{"domain":[-150,150],"nice":false,"zero":false}}}},
{"data":{"name":"legkeys"},"mark":{"type":"point","filled":true,"size":196,"strokeWidth":0,"color":"#cc2229","opacity":0},"encoding":{"shape":{"field":"k","type":"nominal","scale":{"domain":["init","mid"],"range":["M-0.4,0A0.4,0.4 0 1 1 0.4,0A0.4,0.4 0 1 1 -0.4,0Z M-0.27,0A0.27,0.27 0 1 0 0.27,0A0.27,0.27 0 1 0 -0.27,0Z","M-1,-0.07H0.3V0.07H-1Z M1,0L0.2,-0.36L0.2,0.36Z"]},"legend":{"orient":"none","legendX":147.5,"legendY":0,"title":null,"padding":0,"symbolSize":196,"symbolStrokeWidth":0,"symbolOpacity":1,"labelFontSize":14,"labelOffset":4,"rowPadding":1}}}}
]},
{"width":192,"height":192,"title":{"text":"E","dx":-57.9,"offset":1},"layer":[
{"data":{"name":"rings"},"transform":[{"filter":"datum.p==='E'"}],"mark":{"type":"point","shape":"circle","filled":false,"strokeWidth":1,"opacity":1},"encoding":{"x":{"field":"cx","type":"quantitative","title":"norm F1 (mels)","scale":{"domain":[-150,150],"nice":false,"zero":false},"axis":{"values":[-100,0,100],"labelFontSize":12,"labelExpr":"datum.value"}},"y":{"field":"cy","type":"quantitative","title":"norm F2 (mels)","scale":{"domain":[-150,150],"nice":false,"zero":false},"axis":{"values":[-150,-100,-50,0,50,100,150],"labelFontSize":12,"labelExpr":"datum.value"}},"size":{"field":"r","type":"quantitative","scale":{"type":"pow","exponent":2,"domain":[0,150],"range":[0,36864]},"legend":null},"strokeDash":{"field":"kind","type":"nominal","scale":{"domain":["solid","dashed"],"range":[[1,0],[7,4]]},"legend":null},"color":{"field":"kind","type":"nominal","scale":{"domain":["solid","dashed"],"range":["#333","#555"]},"legend":null}}},
{"data":{"name":"arrows"},"transform":[{"filter":"datum.p==='E'"}],"mark":{"type":"rule","color":"#cc2229","strokeWidth":1,"clip":true},"encoding":{"x":{"field":"ix","type":"quantitative","title":"norm F1 (mels)","scale":{"domain":[-150,150],"nice":false,"zero":false}},"y":{"field":"iy","type":"quantitative","title":"norm F2 (mels)","scale":{"domain":[-150,150],"nice":false,"zero":false}},"x2":{"field":"mx"},"y2":{"field":"my"}}},
{"data":{"name":"arrows"},"transform":[{"filter":"datum.p==='E'"},{"calculate":"-atan2(datum.my-datum.iy, datum.mx-datum.ix)*180/PI","as":"ang"}],"mark":{"type":"point","shape":"M0,0L-1,-0.4L-1,0.4Z","filled":true,"size":196,"color":"#cc2229","opacity":1,"strokeWidth":0,"clip":true},"encoding":{"x":{"field":"mx","type":"quantitative","title":"norm F1 (mels)","scale":{"domain":[-150,150],"nice":false,"zero":false}},"y":{"field":"my","type":"quantitative","title":"norm F2 (mels)","scale":{"domain":[-150,150],"nice":false,"zero":false}},"angle":{"field":"ang","type":"quantitative","scale":null}}},
{"data":{"name":"arrows"},"transform":[{"filter":"datum.p==='E'"}],"mark":{"type":"point","shape":"circle","filled":false,"size":70,"strokeWidth":1,"color":"#cc2229","opacity":1,"clip":true},"encoding":{"x":{"field":"ix","type":"quantitative","title":"norm F1 (mels)","scale":{"domain":[-150,150],"nice":false,"zero":false}},"y":{"field":"iy","type":"quantitative","title":"norm F2 (mels)","scale":{"domain":[-150,150],"nice":false,"zero":false}}}},
{"data":{"name":"rings"},"transform":[{"filter":"datum.p==='E' && datum.kind==='solid'"}],"mark":{"type":"point","shape":"circle","filled":true,"size":50,"color":"#000","opacity":1},"encoding":{"x":{"field":"cx","type":"quantitative","title":"norm F1 (mels)","scale":{"domain":[-150,150],"nice":false,"zero":false}},"y":{"field":"cy","type":"quantitative","title":"norm F2 (mels)","scale":{"domain":[-150,150],"nice":false,"zero":false}}}},
{"data":{"name":"legkeys"},"mark":{"type":"point","filled":true,"size":196,"strokeWidth":0,"color":"#cc2229","opacity":0},"encoding":{"shape":{"field":"k","type":"nominal","scale":{"domain":["init","mid"],"range":["M-0.4,0A0.4,0.4 0 1 1 0.4,0A0.4,0.4 0 1 1 -0.4,0Z M-0.27,0A0.27,0.27 0 1 0 0.27,0A0.27,0.27 0 1 0 -0.27,0Z","M-1,-0.07H0.3V0.07H-1Z M1,0L0.2,-0.36L0.2,0.36Z"]},"legend":{"orient":"none","legendX":147.5,"legendY":0,"title":null,"padding":0,"symbolSize":196,"symbolStrokeWidth":0,"symbolOpacity":1,"labelFontSize":14,"labelOffset":4,"rowPadding":1}}}}
]},
{"width":192,"height":192,"title":{"text":"F","dx":-55,"offset":1},"layer":[
{"data":{"name":"rings"},"transform":[{"filter":"datum.p==='F'"}],"mark":{"type":"point","shape":"circle","filled":false,"strokeWidth":1,"opacity":1},"encoding":{"x":{"field":"cx","type":"quantitative","title":"norm F1 (mels)","scale":{"domain":[-150,150],"nice":false,"zero":false},"axis":{"values":[-100,0,100],"labelFontSize":12,"labelExpr":"datum.value"}},"y":{"field":"cy","type":"quantitative","title":"norm F2 (mels)","scale":{"domain":[-150,150],"nice":false,"zero":false},"axis":{"values":[-150,-100,-50,0,50,100,150],"labelFontSize":12,"labelExpr":"datum.value"}},"size":{"field":"r","type":"quantitative","scale":{"type":"pow","exponent":2,"domain":[0,150],"range":[0,36864]},"legend":null},"strokeDash":{"field":"kind","type":"nominal","scale":{"domain":["solid","dashed"],"range":[[1,0],[7,4]]},"legend":null},"color":{"field":"kind","type":"nominal","scale":{"domain":["solid","dashed"],"range":["#333","#555"]},"legend":null}}},
{"data":{"name":"arrows"},"transform":[{"filter":"datum.p==='F'"}],"mark":{"type":"rule","color":"#cc2229","strokeWidth":1,"clip":true},"encoding":{"x":{"field":"ix","type":"quantitative","title":"norm F1 (mels)","scale":{"domain":[-150,150],"nice":false,"zero":false}},"y":{"field":"iy","type":"quantitative","title":"norm F2 (mels)","scale":{"domain":[-150,150],"nice":false,"zero":false}},"x2":{"field":"mx"},"y2":{"field":"my"}}},
{"data":{"name":"arrows"},"transform":[{"filter":"datum.p==='F'"},{"calculate":"-atan2(datum.my-datum.iy, datum.mx-datum.ix)*180/PI","as":"ang"}],"mark":{"type":"point","shape":"M0,0L-1,-0.4L-1,0.4Z","filled":true,"size":196,"color":"#cc2229","opacity":1,"strokeWidth":0,"clip":true},"encoding":{"x":{"field":"mx","type":"quantitative","title":"norm F1 (mels)","scale":{"domain":[-150,150],"nice":false,"zero":false}},"y":{"field":"my","type":"quantitative","title":"norm F2 (mels)","scale":{"domain":[-150,150],"nice":false,"zero":false}},"angle":{"field":"ang","type":"quantitative","scale":null}}},
{"data":{"name":"arrows"},"transform":[{"filter":"datum.p==='F'"}],"mark":{"type":"point","shape":"circle","filled":false,"size":70,"strokeWidth":1,"color":"#cc2229","opacity":1,"clip":true},"encoding":{"x":{"field":"ix","type":"quantitative","title":"norm F1 (mels)","scale":{"domain":[-150,150],"nice":false,"zero":false}},"y":{"field":"iy","type":"quantitative","title":"norm F2 (mels)","scale":{"domain":[-150,150],"nice":false,"zero":false}}}},
{"data":{"name":"rings"},"transform":[{"filter":"datum.p==='F' && datum.kind==='solid'"}],"mark":{"type":"point","shape":"circle","filled":true,"size":50,"color":"#000","opacity":1},"encoding":{"x":{"field":"cx","type":"quantitative","title":"norm F1 (mels)","scale":{"domain":[-150,150],"nice":false,"zero":false}},"y":{"field":"cy","type":"quantitative","title":"norm F2 (mels)","scale":{"domain":[-150,150],"nice":false,"zero":false}}}},
{"data":{"name":"legkeys"},"mark":{"type":"point","filled":true,"size":196,"strokeWidth":0,"color":"#cc2229","opacity":0},"encoding":{"shape":{"field":"k","type":"nominal","scale":{"domain":["init","mid"],"range":["M-0.4,0A0.4,0.4 0 1 1 0.4,0A0.4,0.4 0 1 1 -0.4,0Z M-0.27,0A0.27,0.27 0 1 0 0.27,0A0.27,0.27 0 1 0 -0.27,0Z","M-1,-0.07H0.3V0.07H-1Z M1,0L0.2,-0.36L0.2,0.36Z"]},"legend":{"orient":"none","legendX":147.5,"legendY":0,"title":null,"padding":0,"symbolSize":196,"symbolStrokeWidth":0,"symbolOpacity":1,"labelFontSize":14,"labelOffset":4,"rowPadding":1}}}}
]}
],"spacing":23.5,"resolve":{"scale":{"color":"independent","shape":"independent","size":"independent","strokeDash":"independent"},"legend":{"color":"independent","shape":"independent"}}},
{"width":730,"height":366,"title":{"text":"G","dx":-62.5,"offset":-10},"layer":[
{"data":{"name":"glines"},"transform":[{"filter":"datum.group==='controls'"}],"mark":{"type":"line","color":"#444","strokeWidth":1,"strokeDash":[6,4]},"encoding":{"x":{"field":"x","type":"quantitative","title":"speaker variability (mels)","scale":{"domain":[15,65],"nice":false,"zero":false},"axis":{"values":[15,20,25,30,35,40,45,50,55,60,65],"labelFontSize":14.5,"labelPadding":15,"titlePadding":12}},"y":{"field":"y","type":"quantitative","title":"vowel centering (mels)","scale":{"domain":[0,60],"nice":false,"zero":false},"axis":{"values":[0,10,20,30,40,50,60],"labelFontSize":14.5,"labelPadding":11,"titlePadding":10.8}}}},
{"data":{"name":"glines"},"transform":[{"filter":"datum.group==='PWA'"}],"mark":{"type":"line","color":"#000","strokeWidth":2},"encoding":{"x":{"field":"x","type":"quantitative","title":"speaker variability (mels)","scale":{"domain":[15,65],"nice":false,"zero":false}},"y":{"field":"y","type":"quantitative","title":"vowel centering (mels)","scale":{"domain":[0,60],"nice":false,"zero":false}}}},
{"data":{"name":"gpts"},"transform":[{"filter":"datum.group==='controls'"}],"mark":{"type":"point","shape":"M-1,0H1M0,-1V1","filled":false,"size":64,"strokeWidth":1,"color":"#222","opacity":1},"encoding":{"x":{"field":"x","type":"quantitative","title":"speaker variability (mels)","scale":{"domain":[15,65],"nice":false,"zero":false}},"y":{"field":"y","type":"quantitative","title":"vowel centering (mels)","scale":{"domain":[0,60],"nice":false,"zero":false}}}},
{"data":{"name":"gpts"},"transform":[{"filter":"datum.group==='PWA'"}],"mark":{"type":"point","shape":"circle","filled":true,"size":100,"color":"#000","opacity":1},"encoding":{"x":{"field":"x","type":"quantitative","title":"speaker variability (mels)","scale":{"domain":[15,65],"nice":false,"zero":false}},"y":{"field":"y","type":"quantitative","title":"vowel centering (mels)","scale":{"domain":[0,60],"nice":false,"zero":false}}}},
{"data":{"name":"glines"},"mark":{"type":"point","filled":true,"size":100,"strokeWidth":0,"color":"#000","opacity":0},"encoding":{"x":{"field":"x","type":"quantitative","title":"speaker variability (mels)","scale":{"domain":[15,65],"nice":false,"zero":false}},"y":{"field":"y","type":"quantitative","title":"vowel centering (mels)","scale":{"domain":[0,60],"nice":false,"zero":false}},"shape":{"field":"group","type":"nominal","scale":{"domain":["PWA","controls"],"range":["M-3.76,0A0.8,0.8 0 1 1 -2.16,0A0.8,0.8 0 1 1 -3.76,0Z M-2.96,-0.2H3.9V0.2H-2.96Z","M-3.86,-0.1H-2.46V0.1H-3.86Z M-3.26,-0.7H-3.06V0.7H-3.26Z M-1.7,-0.1H-0.1V0.1H-1.7Z M0.64,-0.1H2.24V0.1H0.64Z M2.9,-0.1H3.9V0.1H2.9Z"]},"legend":{"orient":"none","legendX":21,"legendY":10,"title":null,"padding":5,"strokeColor":"#222","fillColor":"#fff","symbolSize":100,"symbolOffset":19,"symbolStrokeWidth":0,"symbolOpacity":1,"labelOffset":28.2,"labelFontSize":13,"rowPadding":5.7}}}}
]}
],"spacing":25,"resolve":{"scale":{"color":"independent","shape":"independent","size":"independent","strokeDash":"independent"},"legend":{"color":"independent","shape":"independent"}}}
],
"spacing":24,
"resolve":{"scale":{"color":"independent","shape":"independent","size":"independent","strokeDash":"independent"},"legend":{"color":"independent","shape":"independent"}}
}
